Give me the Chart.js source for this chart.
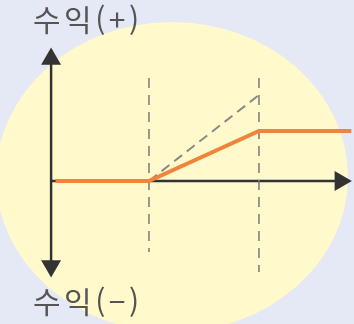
<!DOCTYPE html>
<html lang="ko">
  <head>
    <meta charset="UTF-8" />
    <title>수익 구조</title>
    <script src="https://cdn.jsdelivr.net/npm/chart.js"></script>
    <style>
      body { margin: 0; background: #e5e8f5; }
      #wrap { position: relative; width: 354px; height: 324px; overflow: hidden; }
      #oval {
        position: absolute; left: -4px; top: 22px; width: 352px; height: 310px;
        border-radius: 50%; background: #fff9cc;
      }
      canvas { position: absolute; left: 0; top: 0; }
      .lbl {
        position: absolute; left: 33px; font-family: "Noto Sans CJK KR", sans-serif;
        font-size: 30px; line-height: 30px; color: #555; letter-spacing: 3.5px;
      }
    </style>
  </head>
  <body>
    <div id="wrap">
      <div id="oval"></div>
      <canvas id="payoff" width="354" height="324"></canvas>
      <div class="lbl" style="top: 3px">수익(+)</div>
      <div class="lbl" style="top: 285px">수익(−)</div>
    </div>

    <script>
      // 가격(x)과 손익(y) 값
      const strikes = [100, 200];
      const priceX = [15, 100, 200, 284];
      const spreadPnl = [0, 0, 50, 50]; // 주황색 실선
      const callX = [100, 200];
      const callPnl = [0, 86]; // 회색 점선
      const guideTop = [103, 103];
      const guideBottom = [-71, -91];
      const axisX = [11, 274]; // 가로축 시작/끝
      const axisY = [-85, 122]; // 세로축 아래/위

      const pts = (xs, ys) => xs.map((x, i) => ({ x, y: ys[i] }));

      const datasets = [
        {
          data: pts(priceX, spreadPnl),
          borderColor: "#f0843a",
          borderWidth: 4,
          pointRadius: 0,
        },
        {
          data: pts(callX, callPnl),
          borderColor: "#8a8a86",
          borderWidth: 2,
          borderDash: [10, 6],
          pointRadius: 0,
        },
      ];

      strikes.forEach((k, i) => {
        datasets.push({
          data: [{ x: k, y: guideTop[i] }, { x: k, y: guideBottom[i] }],
          borderColor: "#7a7a76",
          borderWidth: 1.5,
          borderDash: [10, 7],
          pointRadius: 0,
        });
      });

      // 축 + 화살표
      datasets.push({
        data: [{ x: axisX[0], y: 0 }, { x: axisX[1], y: 0 }],
        borderColor: "#333",
        borderWidth: 2.5,
        pointStyle: "triangle",
        pointRadius: [0, 11.5],
        pointRotation: 90,
        pointBackgroundColor: "#333",
        pointBorderWidth: 0,
      });
      datasets.push({
        data: [{ x: axisX[0], y: axisY[0] }, { x: axisX[0], y: axisY[1] }],
        borderColor: "#333",
        borderWidth: 2.5,
        pointStyle: "triangle",
        pointRadius: 11.5,
        pointRotation: [180, 0],
        pointBackgroundColor: "#333",
        pointBorderWidth: 0,
      });

      new Chart(document.getElementById("payoff"), {
        type: "scatter",
        data: { datasets: datasets.map((d) => ({ ...d, showLine: true })) },
        options: {
          responsive: false,
          animation: false,
          layout: { padding: 0, autoPadding: false },
          plugins: { legend: { display: false }, tooltip: { enabled: false } },
          scales: {
            x: { type: "linear", min: -35.45, max: 286.4, display: false },
            y: { type: "linear", min: -143, max: 181, display: false },
          },
        },
      });
    </script>
  </body>
</html>
